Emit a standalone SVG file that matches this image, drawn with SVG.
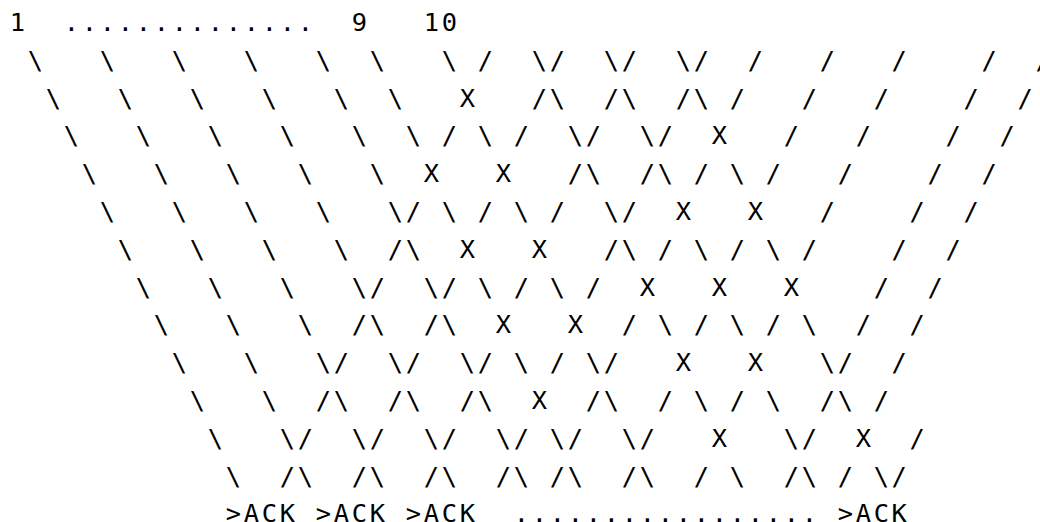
<svg xmlns="http://www.w3.org/2000/svg" width="1040" height="522" viewBox="0 0 1040 522">
<style>
  text { font-family: "DejaVu Sans Mono", "Liberation Mono", monospace; font-size: 25.4px; letter-spacing: 2.71px; fill: #000000; white-space: pre; }
</style>
<rect x="0" y="0" width="1040" height="522" fill="#ffffff"/>
<g id="packet-labels">
  <text xml:space="preserve" x="9.8" y="31">1  ..............  9   10</text>
</g>
<g id="connectors">
  <text xml:space="preserve" x="9.8" y="68.8"> \   \   \   \   \  \   \ /  \/  \/  \/  /   /   /    /  /</text>
  <text xml:space="preserve" x="9.8" y="106.6">  \   \   \   \   \  \   X   /\  /\  /\ /   /   /    /  /</text>
  <text xml:space="preserve" x="9.8" y="144.4">   \   \   \   \   \  \ / \ /  \/  \/  X   /   /    /  /</text>
  <text xml:space="preserve" x="9.8" y="182.2">    \   \   \   \   \  X   X   /\  /\ / \ /   /    /  /</text>
  <text xml:space="preserve" x="9.8" y="220">     \   \   \   \   \/ \ / \ /  \/  X   X   /    /  /</text>
  <text xml:space="preserve" x="9.8" y="257.8">      \   \   \   \  /\  X   X   /\ / \ / \ /    /  /</text>
  <text xml:space="preserve" x="9.8" y="295.6">       \   \   \   \/  \/ \ / \ /  X   X   X    /  /</text>
  <text xml:space="preserve" x="9.8" y="333.4">        \   \   \  /\  /\  X   X  / \ / \ / \  /  /</text>
  <text xml:space="preserve" x="9.8" y="371.2">         \   \   \/  \/  \/ \ / \/   X   X   \/  /</text>
  <text xml:space="preserve" x="9.8" y="409">          \   \  /\  /\  /\  X  /\  / \ / \  /\ /</text>
  <text xml:space="preserve" x="9.8" y="446.8">           \   \/  \/  \/  \/ \/  \/   X   \/  X  /</text>
  <text xml:space="preserve" x="9.8" y="484.6">            \  /\  /\  /\  /\ /\  /\  / \  /\ / \/</text>
</g>
<g id="ack-labels">
  <text xml:space="preserve" x="9.8" y="522.2">            &gt;ACK &gt;ACK &gt;ACK  ................. &gt;ACK</text>
</g>
</svg>
